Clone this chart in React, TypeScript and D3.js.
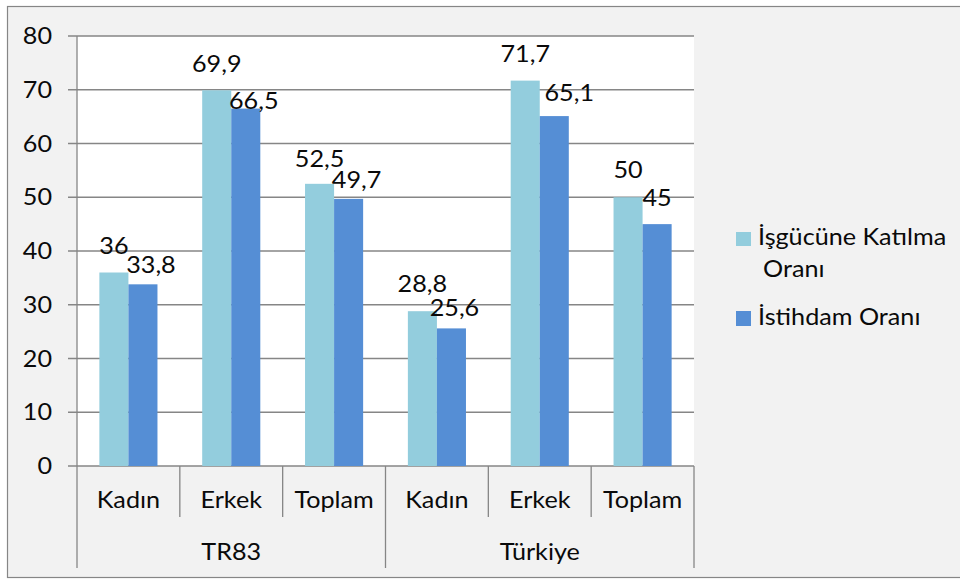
import React from "react";
import * as d3 from "d3";

const groups = ["TR83", "Türkiye"];
const subCategories = ["Kadın", "Erkek", "Toplam"];
const seriesNames = ["İşgücüne Katılma Oranı", "İstihdam Oranı"];
const katilma = [36, 69.9, 52.5, 28.8, 71.7, 50];
const istihdam = [33.8, 66.5, 49.7, 25.6, 65.1, 45];
const yTicks = [0, 10, 20, 30, 40, 50, 60, 70, 80];

// label nudges (dx, baseline offset above bar top)
const nudgeKatilma: [number, number][] = [[0, 19], [0, 18.6], [0, 17.3], [0, 19.3], [0, 19], [0, 19.4]];
const nudgeIstihdam: [number, number][] = [[8, 11], [8, 0], [8, 11], [3, 12], [15, 15], [0, 17.7]];

const W = 960;
const H = 581;
const FONT = "Lato, 'Noto Sans', sans-serif";
const FS = 22.5;
const SX = 1.12;
const LIGHT = "#93CDDD";
const DARK = "#558ED5";
const GRID = "#868686";

function T({ x, y, children, anchor = "middle" }: { x: number; y: number; children: React.ReactNode; anchor?: string }) {
  return (
    <text
      transform={`translate(${x},${y}) scale(${SX},1)`}
      textAnchor={anchor}
      fontFamily={FONT}
      fontSize={FS}
      fill="#0a0a0a"
    >
      {children}
    </text>
  );
}

export default function App() {
  const x0 = 77, x1 = 694, yTop = 36, yBot = 466;
  const cats = groups.flatMap((g) => subCategories.map((s) => `${g}|${s}`));
  const x = d3.scaleBand<string>().domain(cats).range([x0, x1]).paddingInner(0).paddingOuter(0);
  const xs = d3.scaleBand<string>().domain(["a", "b"]).range([0, x.bandwidth()]).paddingInner(0).paddingOuter(0.77);
  const y = d3.scaleLinear().domain([0, 80]).range([yBot, yTop]);
  const groupW = x.bandwidth() * subCategories.length;

  return (
    <svg width={W} height={H} style={{ position: "absolute", left: 0, top: 0 }}>
      <rect x={0} y={0} width={W} height={H} fill="#fff" />
      <rect x={7.5} y={6.5} width={W + 10} height={571} fill="#F2F2F2" stroke={GRID} strokeWidth={1.2} />
      <rect x={x0} y={yTop} width={x1 - x0} height={yBot - yTop} fill="#fff" />
      {yTicks.map((t) => (
        <g key={t}>
          <line x1={68} x2={x1} y1={y(t)} y2={y(t)} stroke={GRID} strokeWidth={1.3} />
          <T x={52} y={y(t) + 8} anchor="end">{t}</T>
        </g>
      ))}
      <line x1={x0} x2={x0} y1={yTop} y2={yBot} stroke={GRID} strokeWidth={1.3} />
      {cats.map((c, i) => (
        <g key={c}>
          <rect x={(x(c) as number) + (xs("a") as number)} y={y(katilma[i])} width={xs.bandwidth()} height={yBot - y(katilma[i])} fill={LIGHT} />
          <rect x={(x(c) as number) + (xs("b") as number)} y={y(istihdam[i])} width={xs.bandwidth()} height={yBot - y(istihdam[i])} fill={DARK} />
        </g>
      ))}
      {cats.map((c, i) => (
        <g key={c + "l"}>
          <T x={(x(c) as number) + (xs("a") as number) + xs.bandwidth() / 2 + nudgeKatilma[i][0]} y={y(katilma[i]) - nudgeKatilma[i][1]}>
            {String(katilma[i]).replace(".", ",")}
          </T>
          <T x={(x(c) as number) + (xs("b") as number) + xs.bandwidth() / 2 + nudgeIstihdam[i][0]} y={y(istihdam[i]) - nudgeIstihdam[i][1]}>
            {String(istihdam[i]).replace(".", ",")}
          </T>
        </g>
      ))}
      {/* category axis */}
      {d3.range(cats.length + 1).map((i) => {
        const xx = x0 + i * x.bandwidth();
        const isGroup = i % subCategories.length === 0;
        return <line key={"s" + i} x1={xx} x2={xx} y1={yBot} y2={isGroup ? 568 : 517} stroke={GRID} strokeWidth={1.3} />;
      })}
      {cats.map((c, i) => (
        <T key={c + "c"} x={(x(c) as number) + x.bandwidth() / 2} y={508}>{subCategories[i % subCategories.length]}</T>
      ))}
      {groups.map((g, gi) => (
        <T key={g} x={x0 + gi * groupW + groupW / 2} y={560}>{g}</T>
      ))}
      {/* legend */}
      <rect x={736} y={232} width={15} height={14} fill={LIGHT} />
      <T x={758} y={245} anchor="start">İşgücüne Katılma</T>
      <T x={763} y={277} anchor="start">Oranı</T>
      <rect x={736} y={311} width={15} height={15} fill={DARK} />
      <T x={758} y={325} anchor="start">{seriesNames[1]}</T>
    </svg>
  );
}
